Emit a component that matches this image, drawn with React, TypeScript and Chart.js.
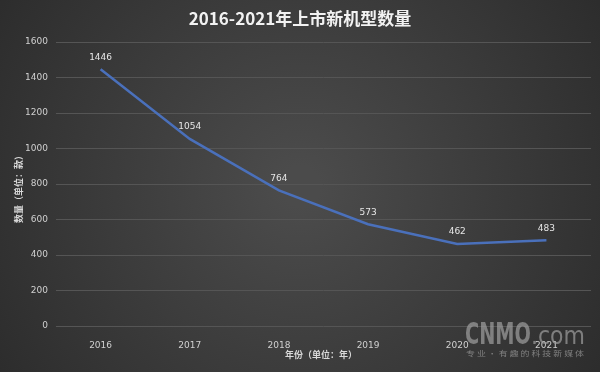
import React, { useEffect, useRef } from "react";
import { Chart, registerables } from "chart.js";

Chart.register(...registerables);

const years = ["2016", "2017", "2018", "2019", "2020", "2021"];
const counts = [1446, 1054, 764, 573, 462, 483];
const yTicks = [0, 200, 400, 600, 800, 1000, 1200, 1400, 1600];
const titleText = "2016-2021年上市新机型数量";
const yTitle = "数量（单位：款）";
const xTitle = "年份（单位：年）";

function fitText(ctx: any, text: string, x: number, y: number, w: number) {
  const m = ctx.measureText(text).width;
  ctx.save();
  ctx.translate(x, y);
  ctx.scale(w / m, 1);
  ctx.fillText(text, 0, 0);
  ctx.restore();
}

const bgPlugin = {
  id: "bg",
  beforeDraw(chart: any) {
    const { ctx, width, height } = chart;
    ctx.save();
    const g = ctx.createRadialGradient(width / 2, height / 2, 20, width / 2, height / 2, width * 0.62);
    g.addColorStop(0, "#4b4b4b");
    g.addColorStop(1, "#2b2b2b");
    ctx.fillStyle = g;
    ctx.fillRect(0, 0, width, height);
    ctx.restore();
  },
  afterDraw(chart: any) {
    const { ctx } = chart;
    ctx.save();
    ctx.fillStyle = "#f2f2f2";
    ctx.textAlign = "center";
    ctx.textBaseline = "middle";
    ctx.font = "bold 17px 'Noto Sans CJK SC'";
    ctx.fillText(titleText, 300, 19);
    ctx.font = "bold 9px 'Noto Sans CJK SC'";
    ctx.fillStyle = "#d9d9d9";
    ctx.fillText(xTitle, 321, 355);
    ctx.translate(19, 187);
    ctx.rotate(-Math.PI / 2);
    ctx.fillText(yTitle, 0, 0);
    ctx.restore();
    // data labels
    ctx.save();
    ctx.fillStyle = "#e6e6e6";
    ctx.font = "9px 'DejaVu Sans'";
    ctx.textAlign = "center";
    ctx.textBaseline = "middle";
    const meta = chart.getDatasetMeta(0);
    meta.data.forEach((pt: any, i: number) => {
      ctx.fillText(String(counts[i]), pt.x, pt.y - 12);
    });
    ctx.restore();
    // watermark
    ctx.save();
    ctx.fillStyle = "rgba(160,160,160,0.7)";
    ctx.textBaseline = "alphabetic";
    ctx.textAlign = "left";
    ctx.font = "bold 31px 'DejaVu Sans Condensed'";
    fitText(ctx, "CNMO", 465, 344, 66);
    ctx.font = "25px 'DejaVu Sans'";
    fitText(ctx, ".com", 531, 344, 54);
    ctx.font = "7px 'Noto Sans CJK SC'";
    fitText(ctx, "专 业 · 有 趣 的 科 技 新 媒 体", 466, 356, 118);
    ctx.restore();
  },
};

export default function App() {
  const ref = useRef<HTMLCanvasElement>(null);
  useEffect(() => {
    document.body.style.margin = "0";
    const chart = new Chart(ref.current!, {
      type: "line",
      data: {
        labels: years,
        datasets: [
          {
            data: counts,
            borderColor: "#4a70bb",
            borderWidth: 2.5,
            pointRadius: 0,
            tension: 0,
            fill: false,
          },
        ],
      },
      options: {
        animation: false,
        responsive: false,
        devicePixelRatio: 1,
        layout: { padding: { left: 0, right: 9, top: 42, bottom: 0 } },
        plugins: { legend: { display: false }, tooltip: { enabled: false } },
        scales: {
          x: {
            offset: true,
            grid: { display: false },
            border: { display: false },
            ticks: { color: "#d0d0d0", font: { size: 9, family: "'DejaVu Sans'" }, padding: 6, maxRotation: 0 },
            afterFit: (s: any) => { s.height = 46; },
          },
          y: {
            min: 0,
            max: 1600,
            afterBuildTicks: (s: any) => { s.ticks = yTicks.map((v) => ({ value: v })); },
            grid: { color: "#555555", lineWidth: 1, drawTicks: false },
            border: { display: false },
            ticks: {
              color: "#d0d0d0",
              font: { size: 9, family: "'DejaVu Sans'" },
              padding: 8,
              callback: (v: any) => String(v),
            },
            afterFit: (s: any) => { s.width = 56; },
          },
        },
      },
      plugins: [bgPlugin],
    });
    return () => chart.destroy();
  }, []);
  return (
    <div style={{ width: 600, height: 372 }}>
      <canvas ref={ref} width={600} height={372} />
    </div>
  );
}
